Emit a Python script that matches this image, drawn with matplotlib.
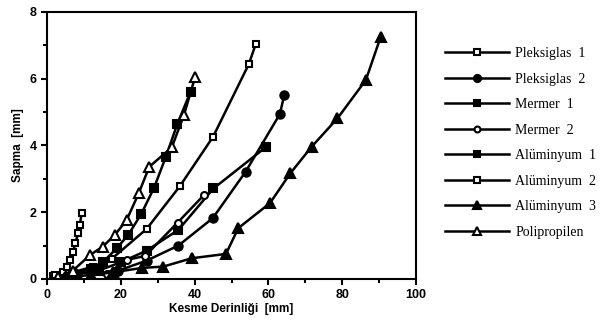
import matplotlib
matplotlib.use("Agg")
import matplotlib.pyplot as plt
from matplotlib.ticker import MultipleLocator

# deflection vs cutting depth
names = ["Pleksiglas  1", "Pleksiglas  2", "Mermer  1", "Mermer  2",
         "Alüminyum  1", "Alüminyum  2", "Alüminyum  3", "Polipropilen"]

pleks1_x = [2, 7, 12.5, 17.5, 27, 36, 45, 54.7, 56.6]
pleks1_y = [0.1, 0.2, 0.37, 0.6, 1.5, 2.78, 4.26, 6.44, 7.05]

pleks2_x = [3, 10, 19.3, 27, 35.6, 44.9, 53.8, 63.1, 64.3]
pleks2_y = [0.05, 0.1, 0.25, 0.55, 1.0, 1.82, 3.21, 4.94, 5.52]

mermer1_x = [3, 8, 14, 20, 27, 35.6, 45.1, 59.3]
mermer1_y = [0.05, 0.1, 0.25, 0.5, 0.85, 1.47, 2.71, 3.95]

mermer2_x = [3, 10, 16.2, 21.6, 26.6, 35.4, 42.5]
mermer2_y = [0.05, 0.1, 0.15, 0.57, 0.69, 1.69, 2.51]

alu1_x = [2, 7, 12, 15.3, 18.9, 22, 25.5, 29, 32.2, 35.3, 38.9]
alu1_y = [0.05, 0.15, 0.3, 0.52, 0.92, 1.32, 1.94, 2.73, 3.66, 4.64, 5.61]

alu2_x = [2.2, 4.4, 5.3, 6.2, 7.1, 7.6, 8.5, 8.9, 9.4]
alu2_y = [0.12, 0.22, 0.35, 0.57, 0.82, 1.07, 1.37, 1.62, 1.99]

alu3_x = [5, 12, 18, 25.7, 31.5, 39.2, 48.5, 51.8, 60.4, 65.9, 71.7, 78.7, 86.4, 90.4]
alu3_y = [0.05, 0.12, 0.2, 0.33, 0.37, 0.62, 0.75, 1.52, 2.27, 3.16, 3.96, 4.81, 5.96, 7.25]

poli_x = [3, 7, 11.7, 15.1, 18.4, 21.6, 24.9, 27.7, 33.8, 37.1, 40.1]
poli_y = [0.05, 0.25, 0.72, 0.97, 1.32, 1.77, 2.58, 3.36, 3.94, 4.91, 6.04]

series = [
    (pleks1_x, pleks1_y, "s", "white", 5),
    (pleks2_x, pleks2_y, "o", "black", 6),
    (mermer1_x, mermer1_y, "s", "black", 5.5),
    (mermer2_x, mermer2_y, "o", "white", 5),
    (alu1_x, alu1_y, "s", "black", 5.5),
    (alu2_x, alu2_y, "s", "white", 5),
    (alu3_x, alu3_y, "^", "black", 7),
    (poli_x, poli_y, "^", "white", 7),
]

fig = plt.figure(figsize=(6.03, 3.21), dpi=100)
ax = fig.add_axes([0.078, 0.131, 0.612, 0.832])

for (x, y, m, fc, ms), name in zip(series, names):
    ax.plot(x, y, color="black", lw=1.8, marker=m, markerfacecolor=fc,
            markeredgecolor="black", markeredgewidth=1.5, markersize=ms, label=name)

ax.set_xlim(0, 100)
ax.set_ylim(0, 8)
ax.xaxis.set_major_locator(MultipleLocator(20))
ax.xaxis.set_minor_locator(MultipleLocator(10))
ax.yaxis.set_major_locator(MultipleLocator(2))
ax.yaxis.set_minor_locator(MultipleLocator(1))
ax.tick_params(which="both", direction="out", width=1.5)
ax.tick_params(which="major", length=4, labelsize=9)
ax.tick_params(which="minor", length=3)
for lab in ax.get_xticklabels() + ax.get_yticklabels():
    lab.set_family("Liberation Sans")
    lab.set_fontweight("bold")
for s in ax.spines.values():
    s.set_linewidth(1.5)

ax.set_xlabel("Kesme Derinliği  [mm]", family="Liberation Sans", fontweight="bold",
              fontsize=8.5, labelpad=1)
ax.set_ylabel("Sapma  [mm]", family="Liberation Sans", fontweight="bold",
              fontsize=8.5, labelpad=4)

ax.legend(loc="upper left", bbox_to_anchor=(1.045, 0.915), frameon=False,
          prop={"family": "Liberation Serif", "size": 10}, handlelength=4.6,
          labelspacing=0.9, handletextpad=0.45, markerscale=0.85)

plt.savefig("out.png", dpi=100)
